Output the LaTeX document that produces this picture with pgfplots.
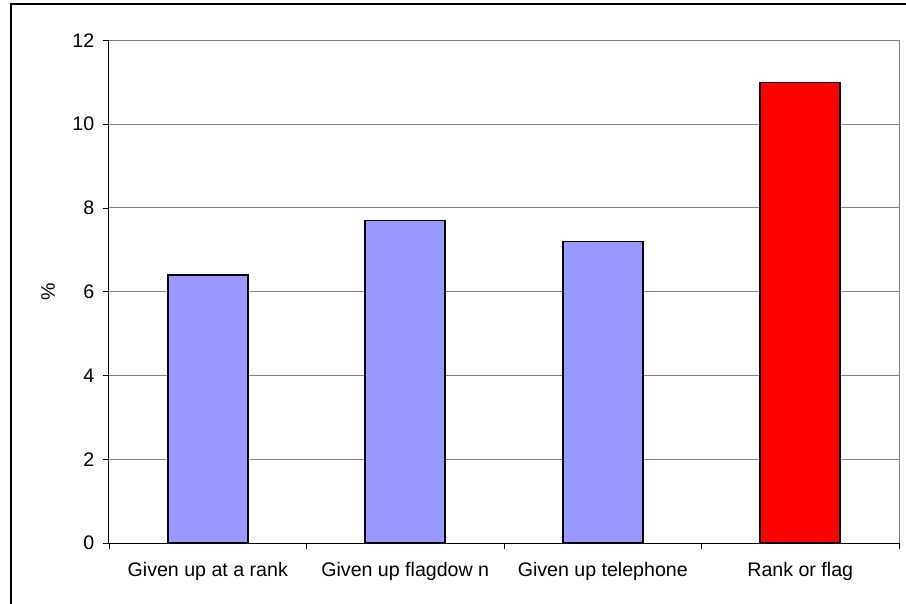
\documentclass[border=0pt]{standalone}
\usepackage{fontspec}
\setmainfont{Liberation Sans}
\usepackage{pgfplots}
\pgfplotsset{compat=1.18}
\definecolor{barblue}{HTML}{9999FF}
\definecolor{gridgray}{HTML}{808080}
\begin{document}
\fontsize{19.6bp}{23bp}\selectfont
\begin{tikzpicture}
\useasboundingbox (0,0) rectangle (906bp,604bp);
\draw[line width=1.2bp, black] (11bp,-5bp) -- (11bp,600bp) -- (915bp,600bp);
\begin{axis}[
  at={(109bp,61bp)}, anchor=south west,
  scale only axis, width=790bp, height=502.5bp,
  xmin=-0.5, xmax=3.5, ymin=0, ymax=12,
  ytick={0,2,4,6,8,10,12},
  xtick={0,1,2,3},
  xticklabels={Given up at a rank, Given up flagdow n, Given up telephone, Rank or flag},
  minor xtick={-0.5,0.5,1.5,2.5,3.5},
  major x tick style={draw=none},
  minor x tick style={black, line width=0.9bp},
  y tick style={black, line width=0.9bp},
  major tick length=6bp, minor tick length=6bp,
  tick align=outside,
  axis x line*=bottom, axis y line*=left,
  axis line style={black, line width=1bp},
  ymajorgrids, grid style={gridgray, line width=1bp},
  ylabel={\%},
  ylabel style={at={(axis description cs:-0.077,0.5)}, anchor=center},
  yticklabel style={/pgf/number format/assume math mode=true, xshift=-2bp},
  xticklabel style={yshift=-7bp},
  ybar, bar width=80bp, bar shift=0bp,
  clip=false,
]
\addplot[fill=barblue, draw=black, line width=1.7bp] coordinates {(0,6.4) (1,7.7) (2,7.2)};
\addplot[fill=red, draw=black, line width=1.7bp] coordinates {(3,11)};
\draw[gridgray, line width=1bp] (rel axis cs:0,1) -- (rel axis cs:1,1) -- (rel axis cs:1,0);
\end{axis}
\end{tikzpicture}
\end{document}
